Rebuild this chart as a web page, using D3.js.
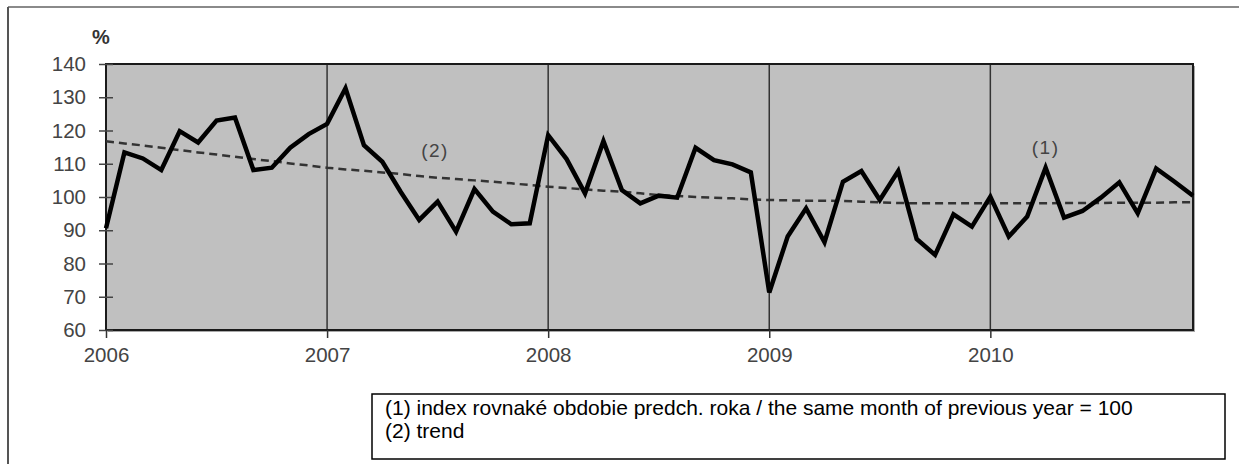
<!DOCTYPE html>
<html><head><meta charset="utf-8">
<script src="https://cdn.jsdelivr.net/npm/d3@7"></script>
<style>body{margin:0;background:#fff}svg{display:block}</style>
</head><body>
<svg id="c" width="1239" height="464"></svg>
<script>
// Data
const years = ["2006", "2007", "2008", "2009", "2010"];
const yTicks = [60, 70, 80, 90, 100, 110, 120, 130, 140];
// (1) index same month of previous year = 100, monthly Jan 2006 – Dec 2010
const indexValues = [
  90.6, 113.4, 111.6, 108.1, 119.8, 116.4, 123.0, 123.9, 108.1, 108.8, 114.8, 118.9,
  122.0, 132.7, 115.6, 110.6, 101.5, 93.1, 98.6, 89.6, 102.4, 95.6, 91.8, 92.1,
  118.6, 111.4, 101.1, 116.8, 102.1, 98.1, 100.4, 99.8, 114.8, 111.1, 109.8, 107.4,
  71.3, 88.1, 96.6, 86.4, 104.6, 107.8, 99.1, 107.8, 87.4, 82.6, 94.8, 91.1,
  100.1, 88.1, 94.1, 108.8, 93.8, 95.8, 99.8, 104.4, 95.1, 108.6, 104.6, 100.4
];
// (2) trend
const trendValues = [
  116.8, 116.1, 115.5, 114.8, 114.1, 113.4, 112.8, 112.1, 111.4, 110.8, 110.1, 109.5,
  108.8, 108.3, 107.9, 107.4, 106.9, 106.3, 105.8, 105.4, 105.0, 104.6, 104.1, 103.6,
  103.1, 102.7, 102.3, 101.9, 101.6, 101.1, 100.6, 100.3, 100.0, 99.8, 99.6, 99.3,
  99.1, 99.0, 98.9, 98.9, 98.8, 98.6, 98.4, 98.2, 98.1, 98.1, 98.1, 98.1,
  98.1, 98.1, 98.1, 98.1, 98.2, 98.2, 98.2, 98.3, 98.3, 98.3, 98.4, 98.4
];
const legendLines = [
  "(1) index rovnaké obdobie predch. roka / the same month of previous year = 100",
  "(2) trend"
];

const FONT = "'Liberation Sans', Arial, sans-serif";
const svg = d3.select("#c");

// outer frame
svg.append("line").attr("x1", 8).attr("x2", 1239).attr("y1", 7).attr("y2", 7)
  .attr("stroke", "#8a8a8a").attr("stroke-width", 2);
svg.append("line").attr("x1", 8).attr("x2", 8).attr("y1", 7).attr("y2", 464)
  .attr("stroke", "#555").attr("stroke-width", 2);

const L = 106, R = 1193, T = 64, B = 330;
const x = d3.scaleLinear().domain([0, indexValues.length - 1]).range([L, R]);
const y = d3.scaleLinear().domain([60, 140]).range([B, T]);

// shadow + background
svg.append("rect").attr("x", L + 2).attr("y", T + 2).attr("width", R - L).attr("height", B - T)
  .attr("fill", "#a8a8a8");
svg.append("rect").attr("x", L).attr("y", T).attr("width", R - L).attr("height", B - T)
  .attr("fill", "#c0c0c0");

// year gridlines
const yearIdx = years.map((d, i) => i * 12);
svg.append("g").selectAll("line").data(yearIdx.slice(1)).join("line")
  .attr("x1", d => x(d)).attr("x2", d => x(d)).attr("y1", T).attr("y2", B)
  .attr("stroke", "#333").attr("stroke-width", 1.5);

// plot border
svg.append("rect").attr("x", L).attr("y", T).attr("width", R - L).attr("height", B - T)
  .attr("fill", "none").attr("stroke", "#1a1a1a").attr("stroke-width", 2);

// y axis
const ya = svg.append("g").attr("transform", `translate(${L},0)`)
  .call(d3.axisLeft(y).tickValues(yTicks).tickSize(7).tickPadding(13));
ya.select(".domain").remove();
ya.selectAll(".tick line").attr("x1", 7).attr("stroke", "#444").attr("stroke-width", 1.5);
ya.selectAll(".tick text").attr("font-family", FONT).attr("font-size", 20.5).attr("fill", "#444");

// x axis
const xa = svg.append("g").attr("transform", `translate(0,${B})`)
  .call(d3.axisBottom(x).tickValues(yearIdx).tickFormat((d, i) => years[i]).tickSize(8).tickPadding(9));
xa.select(".domain").remove();
xa.selectAll(".tick line").attr("stroke", "#333").attr("stroke-width", 1.5);
xa.selectAll(".tick text").attr("font-family", FONT).attr("font-size", 20.5).attr("fill", "#444");

// trend
svg.append("path").datum(trendValues)
  .attr("d", d3.line().x((d, i) => x(i)).y(d => y(d)))
  .attr("fill", "none").attr("stroke", "#333").attr("stroke-width", 2.5)
  .attr("stroke-dasharray", "8,5");

// index line
svg.append("path").datum(indexValues)
  .attr("d", d3.line().x((d, i) => x(i)).y(d => y(d)))
  .attr("fill", "none").attr("stroke", "#000").attr("stroke-width", 4.5)
  .attr("stroke-linejoin", "miter");

// annotations
svg.append("text").attr("x", x(17.86)).attr("y", 157).attr("text-anchor", "middle")
  .attr("font-family", FONT).attr("font-size", 19).attr("letter-spacing", 1.5)
  .attr("fill", "#444").text("(2)");
svg.append("text").attr("x", x(51.0)).attr("y", 154).attr("text-anchor", "middle")
  .attr("font-family", FONT).attr("font-size", 19).attr("letter-spacing", 1.5)
  .attr("fill", "#444").text("(1)");

// unit
svg.append("text").attr("x", 101).attr("y", 44).attr("text-anchor", "middle")
  .attr("font-family", FONT).attr("font-size", 20).attr("font-weight", "bold")
  .attr("fill", "#333").text("%");

// legend box
svg.append("rect").attr("x", 372).attr("y", 394).attr("width", 853).attr("height", 65)
  .attr("fill", "#fff").attr("stroke", "#000").attr("stroke-width", 1.5);
svg.append("g").selectAll("text").data(legendLines).join("text")
  .attr("x", 385).attr("y", (d, i) => 415 + i * 23)
  .attr("font-family", FONT).attr("font-size", 21).attr("fill", "#000").text(d => d);
</script>
</body></html>
